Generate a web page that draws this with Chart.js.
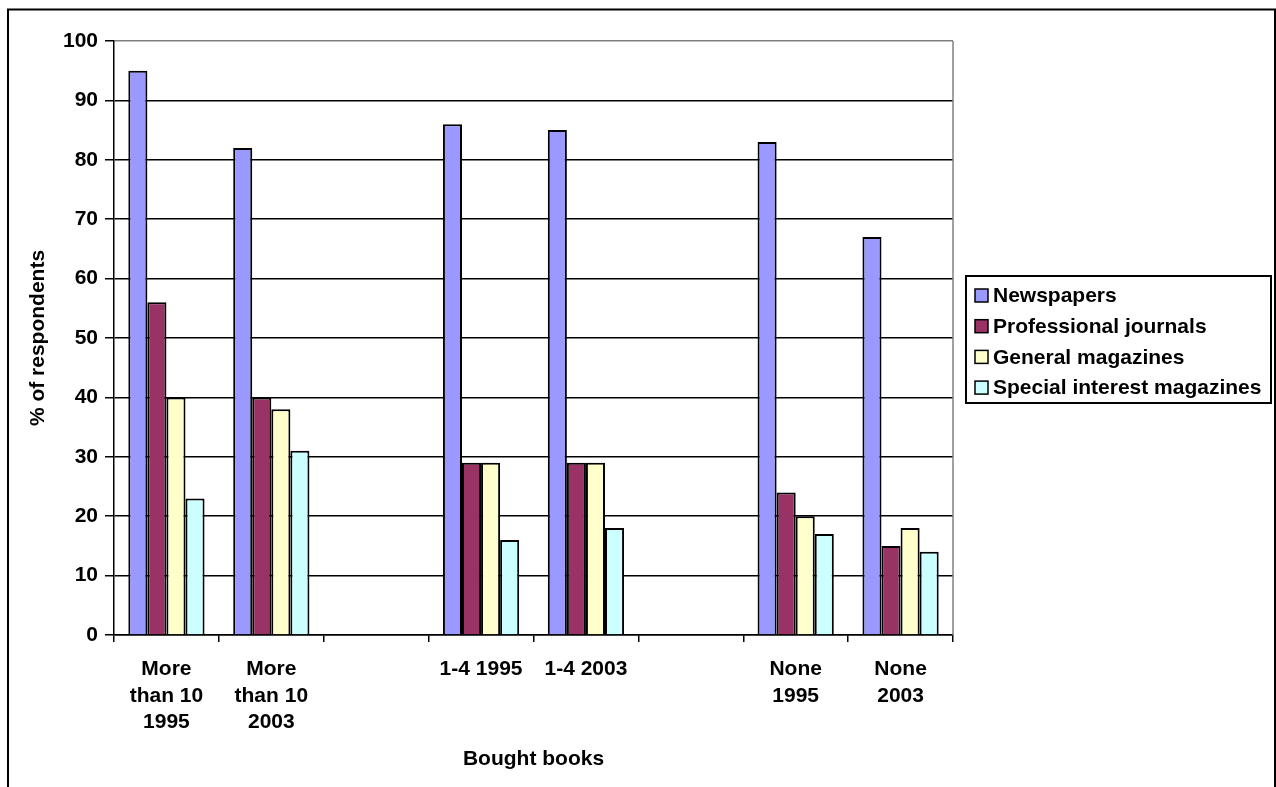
<!DOCTYPE html>
<html>
<head>
<meta charset="utf-8">
<script src="https://cdn.jsdelivr.net/npm/chart.js@4/dist/chart.umd.min.js"></script>
<style>
  html, body { margin: 0; padding: 0; background: #fff; }
  #wrap { position: relative; width: 1276px; height: 787px; }
  canvas { display: block; }
</style>
</head>
<body>
<div id="wrap"><canvas id="chart" width="1276" height="787"></canvas></div>
<script>
// Reading habits by number of books bought, 1995 vs 2003
const categories = [
  ['More', 'than 10', '1995'],
  ['More', 'than 10', '2003'],
  '',
  ['1-4 1995'],
  ['1-4 2003'],
  '',
  ['None', '1995'],
  ['None', '2003']
];
const seriesNames = ['Newspapers', 'Professional journals', 'General magazines', 'Special interest magazines'];
const newspapers = [95, 82, null, 86, 85, null, 83, 67];
const professionalJournals = [56, 40, null, 29, 29, null, 24, 15];
const generalMagazines = [40, 38, null, 29, 29, null, 20, 18];
const specialInterestMagazines = [23, 31, null, 16, 18, null, 17, 14];
const seriesColors = ['#9999FF', '#993366', '#FFFFCC', '#CCFFFF'];
const yTicks = [0, 10, 20, 30, 40, 50, 60, 70, 80, 90, 100];

const FONT = 'Liberation Sans, Arial, Helvetica, sans-serif';
const boldFont = { family: FONT, size: 21, weight: 'bold' };

const seriesValues = [newspapers, professionalJournals, generalMagazines, specialInterestMagazines];
const datasets = seriesNames.map((name, i) => ({
  label: name,
  data: seriesValues[i],
  backgroundColor: seriesColors[i],
  borderColor: '#000',
  borderWidth: 2,
  borderSkipped: 'start',
  categoryPercentage: 0.727,
  barPercentage: 1.0
}));

// Outer frame, gray plot frame and the boxed legend
const decorations = {
  id: 'decorations',
  beforeDraw(chart) {
    const ctx = chart.ctx;
    ctx.save();
    ctx.fillStyle = '#fff';
    ctx.fillRect(0, 0, chart.width, chart.height);
    ctx.strokeStyle = '#000';
    ctx.lineWidth = 2;
    ctx.beginPath();
    ctx.moveTo(8, 800);
    ctx.lineTo(8, 9.5);
    ctx.lineTo(1275, 9.5);
    ctx.lineTo(1275, 800);
    ctx.stroke();
    ctx.restore();
  },
  beforeDatasetsDraw(chart) {
    const { ctx, chartArea } = chart;
    ctx.save();
    ctx.strokeStyle = '#808080';
    ctx.lineWidth = 1.5;
    ctx.beginPath();
    ctx.moveTo(chartArea.right, chartArea.top);
    ctx.lineTo(chartArea.right, chartArea.bottom);
    ctx.stroke();
    ctx.restore();
  },
  afterDraw(chart) {
    const ctx = chart.ctx;
    ctx.save();
    // legend box
    ctx.strokeStyle = '#000';
    ctx.lineWidth = 2;
    ctx.strokeRect(966, 276, 305, 127);
    ctx.font = 'bold 21px ' + FONT;
    ctx.textBaseline = 'middle';
    ctx.textAlign = 'left';
    chart.data.datasets.forEach((ds, i) => {
      const cy = 295.5 + i * 30.7;
      ctx.fillStyle = ds.backgroundColor;
      ctx.fillRect(975, cy - 6.5, 13, 13);
      ctx.lineWidth = 1.5;
      ctx.strokeStyle = '#000';
      ctx.strokeRect(975, cy - 6.5, 13, 13);
      ctx.fillStyle = '#000';
      ctx.fillText(ds.label, 993, cy + 1);
    });
    ctx.restore();
  }
};

new Chart(document.getElementById('chart'), {
  type: 'bar',
  data: { labels: categories, datasets },
  plugins: [decorations],
  options: {
    responsive: false,
    animation: false,
    layout: { padding: { top: 41, right: 323, left: 0, bottom: 0 } },
    plugins: {
      legend: { display: false },
      tooltip: { enabled: false }
    },
    scales: {
      x: {
        afterFit(scale) { scale.height = 152; },
        grid: {
          offset: true,
          drawOnChartArea: false,
          drawTicks: true,
          tickLength: 7,
          color: '#000',
          lineWidth: 1.5
        },
        border: { display: true, color: '#000', width: 1.5 },
        ticks: {
          color: '#000',
          font: { ...boldFont, lineHeight: 1.27 },
          padding: 14,
          maxRotation: 0,
          autoSkip: false
        },
        title: {
          display: true,
          text: 'Bought books',
          color: '#000',
          font: boldFont,
          padding: { top: 4, bottom: 15 }
        }
      },
      y: {
        min: 0,
        max: 100,
        afterFit(scale) { scale.width = 114; },
        afterBuildTicks(scale) { scale.ticks = yTicks.map(v => ({ value: v })); },
        grid: {
          color: ctx => (ctx.tick && ctx.tick.value === 100 ? '#808080' : '#000'),
          tickColor: '#000',
          lineWidth: 1.5,
          drawTicks: true,
          tickLength: 9
        },
        border: { display: true, color: '#000', width: 1.5 },
        ticks: {
          color: '#000',
          font: boldFont,
          padding: 7
        },
        title: {
          display: true,
          text: '% of respondents',
          color: '#000',
          font: boldFont,
          padding: { top: 26, bottom: 4 }
        }
      }
    }
  }
});
</script>
</body>
</html>
